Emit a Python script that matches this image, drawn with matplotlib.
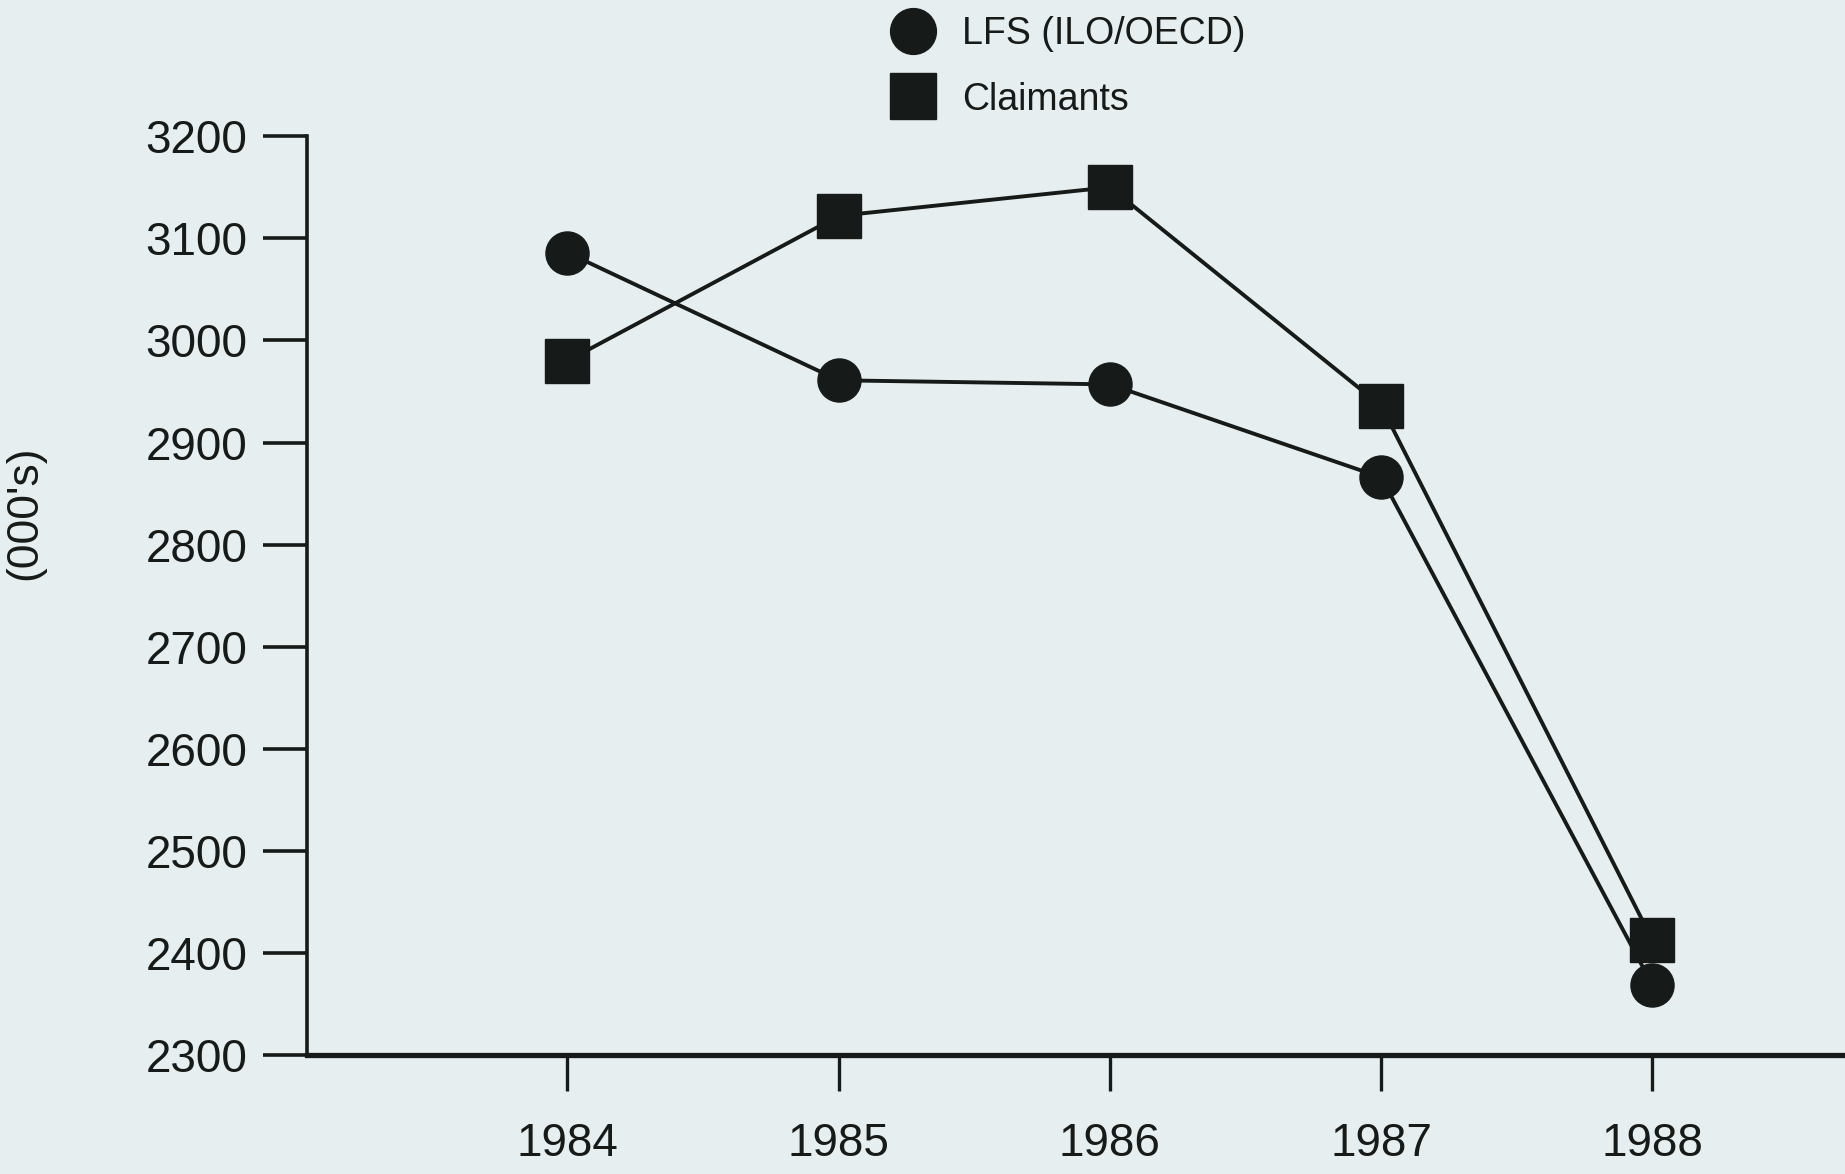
import matplotlib
matplotlib.use("Agg")
import matplotlib.pyplot as plt
from matplotlib.lines import Line2D

# ==================
# data
# ==================
years = [1984, 1985, 1986, 1987, 1988]
lfs = [3086, 2961, 2957, 2866, 2369]
claimants = [2980, 3122, 3150, 2936, 2413]
yticks = [2300, 2400, 2500, 2600, 2700, 2800, 2900, 3000, 3100, 3200]

paper = '#e7eef0'
ink = '#161a18'

plt.rcParams['font.family'] = ['Liberation Sans', 'DejaVu Sans']

fig = plt.figure(figsize=(18.45, 11.74), dpi=100, facecolor=paper)
ax = fig.add_axes([0.1664, 0.101, 1.0 - 0.1664, 0.884 - 0.101])
ax.set_facecolor(paper)

ax.plot(years, lfs, color=ink, lw=2.8, marker='o', ms=31, mec=ink, mfc=ink)
ax.plot(years, claimants, color=ink, lw=2.8, marker='s', ms=31, mec=ink, mfc=ink)

ax.set_xlim(1983.04, 1988.71)
ax.set_ylim(2300, 3200)
ax.set_xticks(years)
ax.set_yticks(yticks)

for side in ['top', 'right']:
    ax.spines[side].set_visible(False)
ax.spines['left'].set_linewidth(2.6)
ax.spines['left'].set_color(ink)
ax.spines['bottom'].set_linewidth(3.8)
ax.spines['bottom'].set_color(ink)

ax.tick_params(axis='y', direction='out', length=32, width=2.6, pad=11,
               labelsize=33, colors=ink)
ax.tick_params(axis='x', direction='out', length=26, width=2.4, pad=22,
               labelsize=33, colors=ink)

ax.set_ylabel("(000's)", fontsize=32, color=ink)
ax.yaxis.set_label_coords(-0.17, 0.59)

# legend: markers only, no lines
handles = [Line2D([], [], ls='none', marker='o', ms=33, color=ink),
           Line2D([], [], ls='none', marker='s', ms=33, color=ink)]
fig.legend(handles, ['LFS (ILO/OECD)', 'Claimants'], loc='center',
           bbox_to_anchor=(0.579, 0.943), frameon=False, fontsize=27,
           handlelength=1.2, handletextpad=0.7, labelspacing=0.78,
           borderpad=0, borderaxespad=0, labelcolor=ink)

fig.savefig('out.png', dpi=100, facecolor=paper)
